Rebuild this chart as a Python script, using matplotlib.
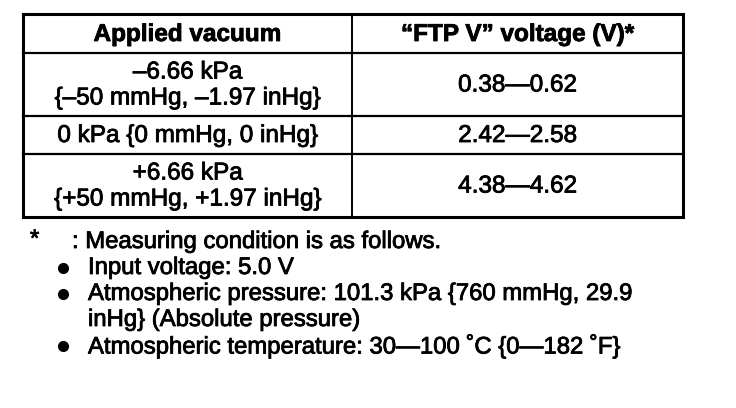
import matplotlib
matplotlib.use("Agg")
import matplotlib.pyplot as plt
import matplotlib.patheffects as pe

plt.rcParams['font.family'] = ['Liberation Sans', 'DejaVu Sans']

# table content
headers = ["Applied vacuum", "\u201cFTP V\u201d voltage (V)*"]
vacuum = [["\u20136.66 kPa", "{\u201350 mmHg, \u20131.97 inHg}"],
          ["0 kPa {0 mmHg, 0 inHg}"],
          ["+6.66 kPa", "{+50 mmHg, +1.97 inHg}"]]
voltage = ["0.38\u20140.62", "2.42\u20142.58", "4.38\u20144.62"]

note_head = ": Measuring condition is as follows."
notes = ["Input voltage: 5.0 V",
         "Atmospheric pressure: 101.3 kPa {760 mmHg, 29.9\ninHg} (Absolute pressure)",
         "Atmospheric temperature: 30\u2014100 \u02daC {0\u2014182 \u02daF}"]

# layout in pixels
W, H = 736, 408
left, mid, right = 23, 352, 683
rows = [14, 53, 116, 154, 217]
fs = 17.5
fs_note = 17.2
lh = 26
# scanned print looks a bit heavier than the regular face
heavy = [pe.withStroke(linewidth=0.6, foreground='black')]

fig = plt.figure(figsize=(W / 100, H / 100), dpi=100)
ax = fig.add_axes([0, 0, 1, 1])
ax.set_xlim(0, W)
ax.set_ylim(H, 0)
ax.axis('off')

# grid
ax.plot([left, right, right, left, left], [rows[0], rows[0], rows[-1], rows[-1], rows[0]],
        color='black', lw=2.2, solid_joinstyle='miter')
for y in rows[1:-1]:
    ax.plot([left, right], [y, y], color='black', lw=1.6)
ax.plot([mid, mid], [rows[0], rows[-1]], color='black', lw=1.4)

cx = [(left + mid) / 2, (mid + right) / 2]
for i, h in enumerate(headers):
    ax.text(cx[i], (rows[0] + rows[1]) / 2 + 1, h, ha='center', va='center',
            fontsize=fs, fontweight='bold', path_effects=heavy)

for r in range(3):
    yc = (rows[r + 1] + rows[r + 2]) / 2 + 1
    lines = vacuum[r]
    n = len(lines)
    for k, s in enumerate(lines):
        ax.text(cx[0], yc + (k - (n - 1) / 2) * lh, s, ha='center', va='center',
                fontsize=fs, path_effects=heavy)
    ax.text(cx[1], yc, voltage[r], ha='center', va='center', fontsize=fs, path_effects=heavy)

# footnotes
y0 = 242
ax.text(30, y0 - 2, "*", ha='left', va='center', fontsize=fs_note, path_effects=heavy)
ax.text(72, y0, note_head, ha='left', va='center', fontsize=fs_note, path_effects=heavy)
y = y0 + lh
for s in notes:
    ax.plot(63, y, 'o', color='black', ms=7)
    for part in s.split("\n"):
        ax.text(88, y, part, ha='left', va='center', fontsize=fs_note, path_effects=heavy)
        y += lh

fig.savefig("out.png", dpi=100)
